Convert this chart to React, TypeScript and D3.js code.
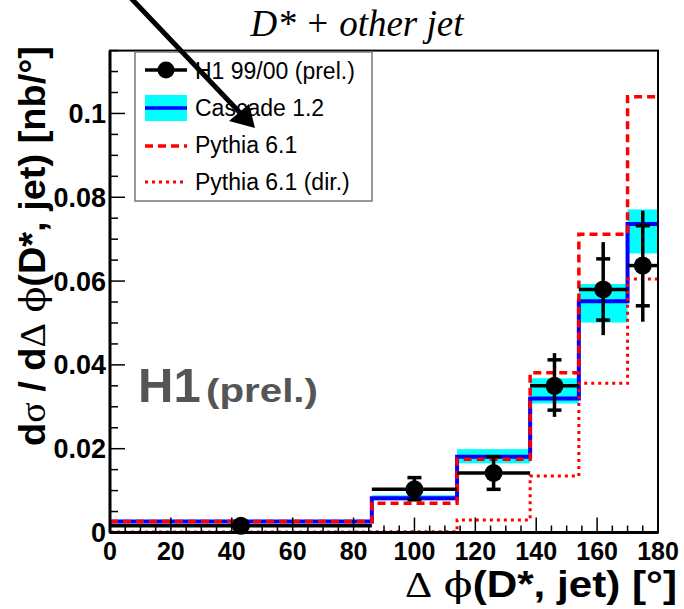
import React from "react";
import * as d3 from "d3";

// bin edges (degrees)
const binEdges = [0, 86, 114, 138, 154, 170, 180];
// H1 data
const dataValues = [0.0016, 0.0103, 0.0142, 0.035, 0.058, 0.0637];
const statLow = [0.0012, 0.0078, 0.0103, 0.0292, 0.0507, 0.0541];
const statHigh = [0.002, 0.0131, 0.0181, 0.0412, 0.0653, 0.0732];
const totLow = [0.001, 0.0076, 0.01, 0.0276, 0.0471, 0.0503];
const totHigh = [0.0022, 0.0133, 0.0184, 0.0428, 0.0693, 0.0768];
// Cascade 1.2
const cascadeValues = [0.0026, 0.0082, 0.0181, 0.032, 0.0552, 0.0736];
const cascadeLow = [0.0022, 0.0077, 0.0165, 0.0308, 0.0501, 0.0666];
const cascadeHigh = [0.003, 0.0089, 0.0199, 0.0368, 0.0593, 0.0771];
// Pythia 6.1
const pythiaValues = [0.0026, 0.007, 0.0175, 0.0381, 0.0712, 0.104];
// Pythia 6.1 (dir.)
const pythiaDirValues = [0.0001, 0.0002, 0.003, 0.0135, 0.0356, 0.0605];

const xTicks = [0, 20, 40, 60, 80, 100, 120, 140, 160, 180];
const yTicks = [0, 0.02, 0.04, 0.06, 0.08, 0.1];
const yTickLabels = ["0", "0.02", "0.04", "0.06", "0.08", "0.1"];
const legendLabels = ["H1 99/00 (prel.)", "Cascade 1.2", "Pythia 6.1", "Pythia 6.1 (dir.)"];

const W = 684;
const H = 609;
const L = 110, R = 658, T = 50.6, B = 532.5;

export default function App() {
  const x = d3.scaleLinear().domain([0, 180]).range([L, R]);
  const y = d3.scaleLinear().domain([0, 0.115]).range([B, T]);

  const stepLine = (vals: number[]) => {
    const pts: [number, number][] = vals.map((v, i) => [binEdges[i], v]);
    pts.push([binEdges[binEdges.length - 1], vals[vals.length - 1]]);
    return d3
      .line<[number, number]>()
      .x((d) => x(d[0]))
      .y((d) => y(d[1]))
      .curve(d3.curveStepAfter)(pts) as string;
  };

  const centers = dataValues.map((_, i) => (binEdges[i] + binEdges[i + 1]) / 2);
  const minorX = d3.range(0, 181, 5);
  const minorY = d3.range(0, 0.1151, 0.005);

  const font = "'Liberation Sans', Arial, Helvetica, sans-serif";
  const sym = "'Liberation Serif', 'Times New Roman', serif";
  const phiFont = "'DejaVu Serif', serif";
  const legendBase = [79, 116, 153, 190];

  return (
    <svg
      width={W}
      height={H}
      style={{ position: "fixed", left: 0, top: 0, background: "#fff" }}
      fontFamily={font}
    >
      <rect x={0} y={0} width={W} height={H} fill="#fff" />
      {/* title */}
      <text
        x={357}
        y={36}
        textAnchor="middle"
        fontFamily="'Liberation Serif', 'Times New Roman', serif"
        fontStyle="italic"
        fontSize={37}
      >
        D* + other jet
      </text>

      {/* Cascade band */}
      {cascadeLow.map((lo, i) => (
        <rect
          key={"cb" + i}
          x={x(binEdges[i])}
          width={x(binEdges[i + 1]) - x(binEdges[i])}
          y={y(cascadeHigh[i])}
          height={y(lo) - y(cascadeHigh[i])}
          fill="#00ffff"
        />
      ))}
      <path d={stepLine(cascadeValues)} fill="none" stroke="#0000ff" strokeWidth={4} />
      <path d={stepLine(pythiaValues)} fill="none" stroke="#ff0000" strokeWidth={3.5} strokeDasharray="8 5" />
      <path d={stepLine(pythiaDirValues)} fill="none" stroke="#ff0000" strokeWidth={3} strokeDasharray="3 4" />

      {/* data */}
      {dataValues.map((v, i) => {
        const cx = x(centers[i]);
        return (
          <g key={"d" + i} stroke="#000" strokeWidth={3.5}>
            <line x1={x(binEdges[i])} x2={x(binEdges[i + 1])} y1={y(v)} y2={y(v)} />
            <line x1={cx} x2={cx} y1={y(totLow[i])} y2={y(totHigh[i])} />
            <line x1={cx - 7} x2={cx + 7} y1={y(statLow[i])} y2={y(statLow[i])} />
            <line x1={cx - 7} x2={cx + 7} y1={y(statHigh[i])} y2={y(statHigh[i])} />
            <circle cx={cx} cy={y(v)} r={9} fill="#000" stroke="none" />
          </g>
        );
      })}

      {/* frame */}
      <rect x={L} y={T} width={R - L} height={B - T} fill="none" stroke="#000" strokeWidth={2} />
      <line x1={L} x2={L} y1={T} y2={B} stroke="#000" strokeWidth={3} />
      <line x1={L} x2={R} y1={B} y2={B} stroke="#000" strokeWidth={3} />

      {/* x ticks */}
      {minorX.map((t) => (
        <line
          key={"mx" + t}
          x1={x(t)}
          x2={x(t)}
          y1={B}
          y2={B - (t % 20 === 0 ? 15 : 7)}
          stroke="#000"
          strokeWidth={1.5}
        />
      ))}
      {xTicks.map((t) => (
        <text key={"xt" + t} x={x(t)} y={560} textAnchor="middle" fontWeight="bold" fontSize={25}>
          {t}
        </text>
      ))}
      {/* y ticks */}
      {minorY.map((t, i) => (
        <line
          key={"my" + i}
          x1={L}
          x2={L + (i % 4 === 0 ? 15 : 8)}
          y1={y(t)}
          y2={y(t)}
          stroke="#000"
          strokeWidth={1.5}
        />
      ))}
      {yTicks.map((t, i) => (
        <text key={"yt" + i} x={106} y={y(t) + 9.5} textAnchor="end" fontWeight="bold" fontSize={27}>
          {yTickLabels[i]}
        </text>
      ))}

      {/* axis titles */}
      <text x={677} y={597} textAnchor="end" fontWeight="bold" fontSize={36} textLength={272} lengthAdjust="spacingAndGlyphs">
        <tspan fontWeight="normal" fontFamily={sym}>Δ</tspan> <tspan fontWeight="normal" fontFamily={phiFont}>ϕ</tspan>(D*, jet) [°]
      </text>
      <text
        transform="translate(45,446) rotate(-90)"
        x={0}
        y={0}
        textAnchor="start"
        fontWeight="bold"
        fontSize={36}
        textLength={400}
        lengthAdjust="spacingAndGlyphs"
      >
        d<tspan fontWeight="normal" fontFamily={sym}>σ</tspan> / d<tspan fontWeight="normal" fontFamily={sym}>Δ</tspan>{" "}
        <tspan fontWeight="normal" fontFamily={phiFont}>ϕ</tspan>(D*, jet)  [nb/°]
      </text>

      {/* H1 prel label */}
      <text x={138} y={402} fontWeight="bold" fontSize={49} fill="#555">
        H1
      </text>
      <text x={206} y={402} fontWeight="bold" fontSize={33} fill="#555" textLength={112} lengthAdjust="spacingAndGlyphs">
        (prel.)
      </text>

      {/* legend */}
      <rect x={135} y={52} width={237} height={149} fill="#fff" stroke="#777" strokeWidth={1.5} />
      <g>
        <line x1={145} x2={187} y1={legendBase[0] - 9} y2={legendBase[0] - 9} stroke="#000" strokeWidth={3.5} />
        <circle cx={166} cy={legendBase[0] - 9} r={8.5} fill="#000" />
        <rect x={145} y={legendBase[1] - 21} width={42} height={26} fill="#00ffff" />
        <line x1={145} x2={187} y1={legendBase[1] - 8} y2={legendBase[1] - 8} stroke="#0000ff" strokeWidth={3.5} />
        <line x1={145} x2={187} y1={legendBase[2] - 7} y2={legendBase[2] - 7} stroke="#ff0000" strokeWidth={3.5} strokeDasharray="8 5" />
        <line x1={145} x2={187} y1={legendBase[3] - 8} y2={legendBase[3] - 8} stroke="#ff0000" strokeWidth={3} strokeDasharray="3 4" />
        {legendLabels.map((l, i) => (
          <text key={"lg" + i} x={195} y={legendBase[i]} fontSize={23}>
            {l}
          </text>
        ))}
      </g>

      {/* arrow */}
      <line x1={128} y1={-5} x2={245} y2={118} stroke="#000" strokeWidth={5} />
      <polygon points="255,128 229,121 249,104" fill="#000" />
    </svg>
  );
}
